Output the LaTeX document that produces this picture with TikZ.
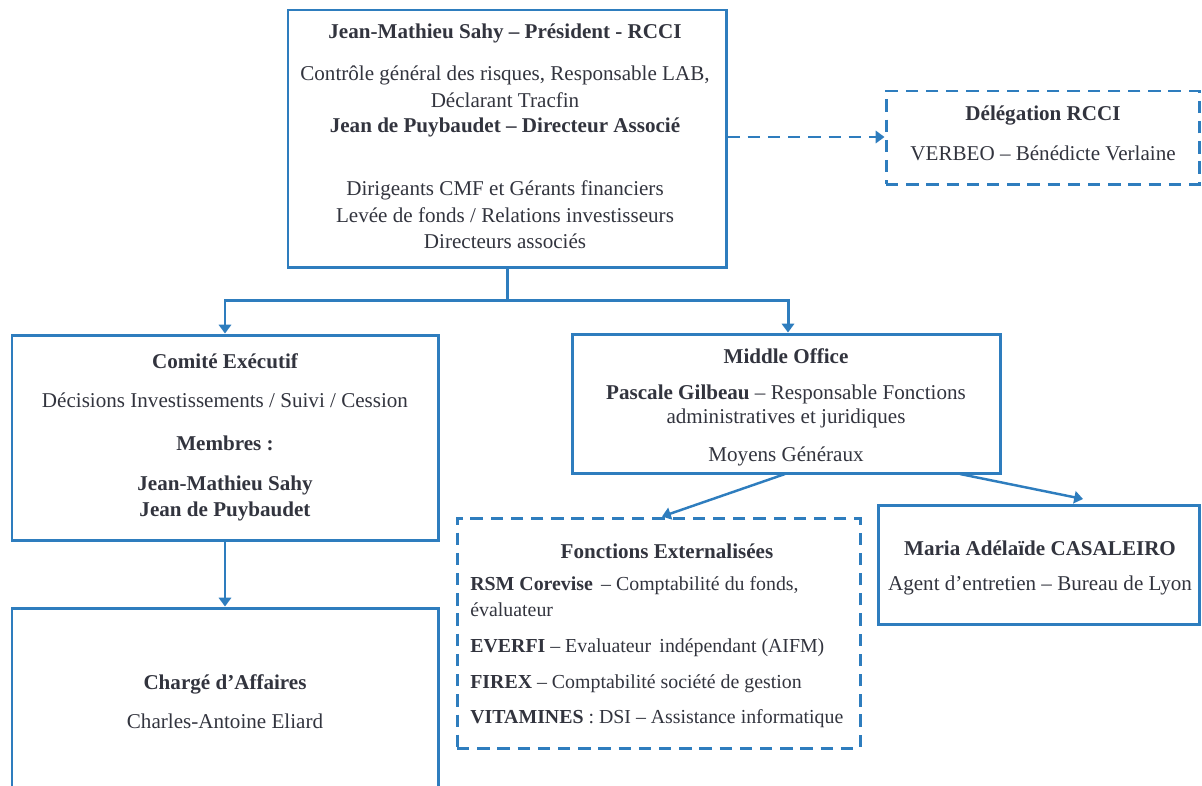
\documentclass[tikz,border=0pt]{standalone}
\usepackage{fontspec}
\setmainfont{Liberation Serif}
\usepackage{tikz}
\usetikzlibrary{arrows.meta,fit}
\definecolor{orgBlue}{RGB}{46,125,190}
\definecolor{orgText}{RGB}{50,52,62}

\begin{document}
\begin{tikzpicture}[x=0.02cm,y=-0.02cm,
  box/.style={draw=orgBlue,line width=1.7pt,inner sep=0pt},
  dbox/.style={box,dash pattern=on 7pt off 4.5pt},
  link/.style={draw=orgBlue,line width=1.7pt},
  txt/.style={text=orgText,inner sep=0pt,font=\fontsize{12}{14}\selectfont},
  btxt/.style={txt,font=\fontsize{12}{14}\selectfont\bfseries},
  stxt/.style={txt,anchor=west,font=\fontsize{11.3}{13}\selectfont},
  >={Triangle[length=5pt,width=7pt]}]
\useasboundingbox (0,0) rectangle (1202,785);
\clip (0,0) rectangle (1202,785);

% boxes
\node[box,fit={(288,10) (726,267)}] (pres) {};
\node[dbox,fit={(886,91) (1199,184)}] (deleg) {};
\node[box,fit={(12,335) (438,540)}] (comex) {};
\node[box,fit={(572,334) (1000,473)}] (middle) {};
\node[box,fit={(12,608) (438,800)}] (charge) {};
\node[dbox,fit={(457,518) (860,748)}] (extern) {};
\node[box,fit={(878,505) (1199,624)}] (maria) {};

% president
\node[btxt] (presA) at (505,33) {Jean-Mathieu Sahy -- Président - RCCI};
\node[txt] (presB) at (505,75) {Contrôle général des risques, Responsable LAB,};
\node[txt] (presC) at (505,100) {Déclarant Tracfin};
\node[btxt] (presD) at (505,127) {Jean de Puybaudet -- Directeur Associé};
\node[txt] (presE) at (505,190) {Dirigeants CMF et Gérants financiers};
\node[txt] (presF) at (505,215) {Levée de fonds / Relations investisseurs};
\node[txt] (presG) at (505,241) {Directeurs associés};

% delegation
\node[btxt] (delegA) at (1043,115) {Délégation RCCI};
\node[txt] (delegB) at (1043,153) {VERBEO -- Bénédicte Verlaine};

% comite
\node[btxt] (comexA) at (225,361) {Comité Exécutif};
\node[txt] (comexB) at (225,400) {Décisions Investissements / Suivi / Cession};
\node[btxt] (comexC) at (225,443) {Membres :};
\node[btxt] (comexD) at (225,485) {Jean-Mathieu Sahy};
\node[btxt] (comexE) at (225,511) {Jean de Puybaudet};

% middle office
\node[btxt] (middleA) at (786,356) {Middle Office};
\node[txt] (middleB) at (786,394) {\textbf{Pascale Gilbeau} -- Responsable Fonctions};
\node[txt] (middleC) at (786,418) {administratives et juridiques};
\node[txt] (middleD) at (786,456) {Moyens Généraux};

% charge d'affaires
\node[btxt] (chargeA) at (225,684) {Chargé d’Affaires};
\node[txt] (chargeB) at (225,721) {Charles-Antoine Eliard};

% fonctions externalisees
\node[btxt] (externA) at (667,551) {Fonctions Externalisées};
\node[stxt] (externB) at (470,586) {\textbf{RSM Corevise} \,-- Comptabilité du fonds,};
\node[stxt] (externC) at (470,610) {évaluateur};
\node[stxt] (externD) at (470,648) {\textbf{EVERFI} -- Evaluateur \,indépendant (AIFM)};
\node[stxt] (externE) at (470,684) {\textbf{FIREX} -- Comptabilité société de gestion};
\node[stxt] (externF) at (470,719) {\textbf{VITAMINES} : DSI -- Assistance informatique};

% maria
\node[btxt] (mariaA) at (1040,548) {Maria Adélaïde CASALEIRO};
\node[txt] (mariaB) at (1040,585) {Agent d’entretien -- Bureau de Lyon};

% connectors
\coordinate (split) at (507,300);
\draw[link] (pres.south) -- (split);
\draw[link,->] (split) -| (comex.north -| 225,0);
\draw[link,->] (split) -| (middle.north -| 788,0);
\draw[link,dash pattern=on 7pt off 4.5pt,->] (pres.east |- 0,137) -- (deleg.west |- 0,137);
\draw[link,->] (comex.south -| 225,0) -- (charge.north -| 225,0);
\draw[link,line width=1.4pt,->] (785,474) -- (extern.north -| 662,0);
\draw[link,line width=1.4pt,->] (960,474) -- (1083,499);
\end{tikzpicture}
\end{document}
